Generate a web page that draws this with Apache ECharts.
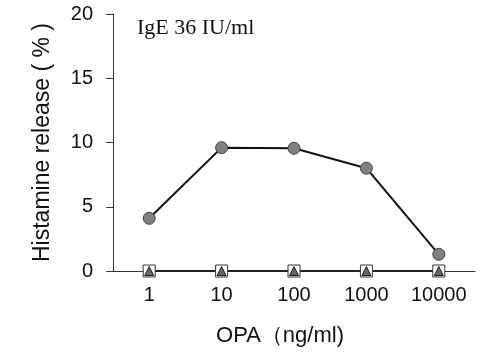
<!DOCTYPE html>
<html><head><meta charset="utf-8">
<script src="https://cdn.jsdelivr.net/npm/echarts@6/dist/echarts.min.js"></script>
<style>html,body{margin:0;padding:0;background:#fff}#c{width:486px;height:352px}</style>
</head><body><div id="c"></div>
<script>
var categories = ['1', '10', '100', '1000', '10000'];
var circleValues = [4.1, 9.6, 9.55, 8.0, 1.3];
var squareValues = [0, 0, 0, 0, 0];
var triangleValues = [0, 0, 0, 0, 0];
var yTicks = [0, 5, 10, 15, 20];

var chart = echarts.init(document.getElementById('c'));
chart.setOption({
  animation: false,
  backgroundColor: '#fff',
  grid: { left: 113, right: 11, top: 14, bottom: 81 },
  xAxis: {
    type: 'category', data: categories, boundaryGap: true,
    axisLine: { show: true, lineStyle: { color: '#333', width: 1 } },
    axisTick: { show: false },
    axisLabel: { color: '#111', fontSize: 20, fontFamily: 'Liberation Sans, Arial', margin: 14 }
  },
  yAxis: {
    type: 'value', min: 0, max: 20, interval: 5,
    axisLine: { show: true, lineStyle: { color: '#333', width: 1 } },
    axisTick: { show: true, length: 7, lineStyle: { color: '#333' } },
    splitLine: { show: false },
    axisLabel: { color: '#111', fontSize: 20, fontFamily: 'Liberation Sans, Arial', margin: 20,
      formatter: function (v) { return yTicks.indexOf(v) >= 0 ? String(v) : ''; } },
    name: 'Histamine release ( % )', nameLocation: 'middle', nameGap: 59, nameRotate: 90,
    nameTextStyle: { color: '#111', fontSize: 23, fontFamily: 'Liberation Sans, Arial' }
  },
  graphic: [
    {
      type: 'text', left: 137, top: 17,
      style: { text: 'IgE 36 IU/ml', font: '22px "Liberation Serif", "Times New Roman", serif', fill: '#111' }
    },
    {
      type: 'text', x: 280, y: 336,
      style: { text: 'OPA（ng/ml)', font: '22px "Liberation Sans", Arial, sans-serif', fill: '#111',
        textAlign: 'center', textVerticalAlign: 'middle' }
    }
  ],
  series: [
    {
      type: 'line', data: squareValues, symbol: 'rect', symbolSize: 12,
      itemStyle: { color: '#fff', borderColor: '#333', borderWidth: 1 },
      lineStyle: { color: '#222', width: 2 }, z: 2
    },
    {
      type: 'line', data: triangleValues, symbol: 'triangle', symbolSize: 9,
      itemStyle: { color: '#666', borderColor: '#222', borderWidth: 1 },
      lineStyle: { width: 0, opacity: 0 }, z: 3
    },
    {
      type: 'line', data: circleValues, symbol: 'circle', symbolSize: 12,
      itemStyle: { color: '#808080', borderColor: '#444', borderWidth: 1 },
      lineStyle: { color: '#111', width: 2 }, z: 4
    }
  ]
});
</script>
</body></html>
